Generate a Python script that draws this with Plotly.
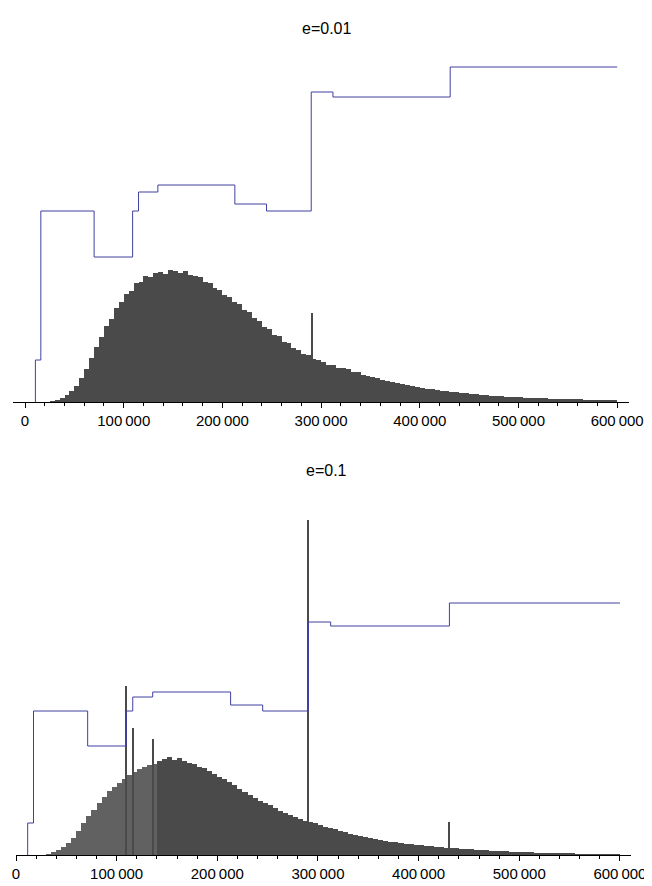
import plotly.graph_objects as go

# histogram bins: 5000 wide, 0 .. 600000
bin_width = 5000
bin_centers = [2500 + bin_width * i for i in range(120)]

hist_top = [0, 0, 0, 0, 0,
            1, 2, 4, 7, 11,
            16, 24, 33, 44, 55,
            65, 76, 83, 94, 100,
            108, 111, 119, 120, 126,
            125, 129, 130, 128, 132,
            131, 129, 131, 127, 126,
            125, 120, 119, 114, 112,
            107, 105, 100, 98, 92,
            90, 84, 81, 75, 73,
            67, 66, 60, 59, 54,
            52, 48, 47, 43, 42,
            40, 37, 37, 34, 34,
            33, 30, 30, 27, 26,
            25, 24, 22, 21, 20,
            19, 18, 17, 16, 15,
            14, 13, 13, 12, 11,
            11, 10, 10, 9, 9,
            8, 8, 7, 7, 6,
            6, 6, 5, 5, 5,
            5, 4, 4, 4, 4,
            4, 3, 3, 3, 3,
            3, 3, 3, 2, 2,
            2, 2, 2, 2, 2]

hist_bottom = [0, 0, 0, 0, 0,
               0, 1, 3, 5, 8,
               12, 17, 24, 32, 39,
               45, 52, 58, 64, 68,
               72, 76, 80, 83, 86,
               88, 90, 91, 94, 96,
               98, 95, 97, 94, 92,
               91, 88, 87, 84, 81,
               78, 76, 73, 70, 66,
               63, 60, 57, 54, 52,
               50, 47, 44, 42, 40,
               38, 36, 34, 33, 32,
               30, 28, 27, 26, 24,
               23, 21, 20, 19, 18,
               17, 16, 15, 14, 13,
               13, 12, 11, 11, 10,
               10, 9, 9, 8, 8,
               7, 7, 7, 6, 6,
               6, 5, 5, 5, 4,
               4, 4, 4, 3, 3,
               3, 3, 3, 2, 2,
               2, 2, 2, 2, 2,
               2, 1, 1, 1, 1,
               1, 1, 1, 1, 1]

spike_top_x = [290700]
spike_top_y = [89]
spike_bottom_x = [109700, 116000, 135800, 290600, 430600]
spike_bottom_y = [169, 127, 116, 335, 33]

step_top_x = [10500, 10500, 16000, 70000, 109000, 115000, 134600, 212600, 244700, 290000, 312000, 430800, 600000]
step_top_y = [0, 42, 191, 145, 191, 210, 217, 198, 191, 310, 305, 335, 335]
step_bottom_x = [11600, 11600, 17400, 71200, 109700, 116000, 135800, 213200, 245100, 290600, 312600, 430600, 600000]
step_bottom_y = [0, 32, 144, 109, 144, 158, 163, 150, 144, 233, 229, 252, 252]

titles = ["e=0.01", "e=0.1"]
tick_vals = [0, 100000, 200000, 300000, 400000, 500000, 600000]
tick_text = ["0", "100\u2009000", "200\u2009000", "300\u2009000", "400\u2009000", "500\u2009000", "600\u2009000"]

# the page body adds an 8px offset, so positions are shifted by 8
W, H = 652, 886
off = 8
dom_top = [1 - (402 - off) / H, 1 - (62 - off) / H]
dom_bot = [1 - (855 - off) / H, 1 - (515 - off) / H]
pl, pr = 13, 639   # page px of plot area
pw = pr - pl
xdom_top = [0, (629 - pl) / pw]
xdom_bot = [(16 - pl) / pw, (631 - pl) / pw]

fig = go.Figure()
bottom_colors = ["#616161" if c < 138000 else "#4a4a4a" for c in bin_centers]

panels = [
    (hist_top, ["#4a4a4a"] * 120, spike_top_x, spike_top_y, step_top_x, step_top_y, "x", "y"),
    (hist_bottom, bottom_colors, spike_bottom_x, spike_bottom_y, step_bottom_x, step_bottom_y, "x2", "y2"),
]
for hist, cols, sx, sy, lx, ly, xa, ya in panels:
    fig.add_trace(go.Bar(x=bin_centers, y=hist, width=bin_width, marker=dict(color=cols, line_width=0),
                         xaxis=xa, yaxis=ya, showlegend=False))
    fig.add_trace(go.Bar(x=sx, y=sy, width=1100, marker=dict(color="#4a4a4a", line_width=0),
                         xaxis=xa, yaxis=ya, showlegend=False))
    fig.add_trace(go.Scatter(x=lx, y=ly, mode="lines", line=dict(shape="hv", color="#4040a0", width=1),
                             xaxis=xa, yaxis=ya, showlegend=False))

xcommon = dict(showgrid=False, zeroline=False, showline=True, linecolor="black", automargin=False,
               linewidth=1, ticks="outside", ticklen=5, tickcolor="black", tickvals=tick_vals,
               ticktext=tick_text, tickfont=dict(family="Liberation Sans", size=15, color="black"),
               minor=dict(ticks="outside", ticklen=3, dtick=20000, tick0=0, tickcolor="black"))
ycommon = dict(range=[0, 340], visible=False)

fig.update_layout(
    width=W, height=H, margin=dict(l=pl - off, r=W - (pr - off), t=0, b=0, autoexpand=False),
    plot_bgcolor="white", paper_bgcolor="white", barmode="overlay", bargap=0,
    xaxis=dict(anchor="y", domain=xdom_top, range=[-12200, 612000], **xcommon),
    yaxis=dict(domain=dom_top, **ycommon),
    xaxis2=dict(anchor="y2", domain=xdom_bot, range=[0, 611000], **xcommon),
    yaxis2=dict(domain=dom_bot, **ycommon),
    annotations=[
        dict(text=titles[0], x=0.5, y=1 - (18 - off) / H, xref="paper", yref="paper", showarrow=False,
             font=dict(family="Liberation Sans", size=16, color="black")),
        dict(text=titles[1], x=0.5, y=1 - (470 - off) / H, xref="paper", yref="paper", showarrow=False,
             font=dict(family="Liberation Sans", size=16, color="black")),
    ],
)

fig.write_html("out.html")
